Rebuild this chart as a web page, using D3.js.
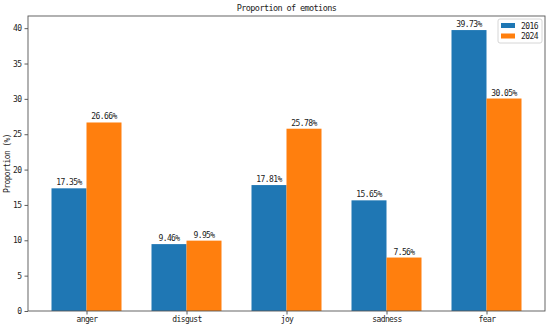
<!DOCTYPE html>
<html>
<head>
<meta charset="utf-8">
<script src="https://cdn.jsdelivr.net/npm/d3@7"></script>
<style>
  body { margin: 0; background: #fff; }
  svg text { font-family: "DejaVu Sans Mono", "Liberation Mono", monospace; fill: #222; }
</style>
</head>
<body>
<div id="chart"></div>
<script>
// chart data
var emotions = ["anger", "disgust", "joy", "sadness", "fear"];
var years = ["2016", "2024"];
var values2016 = [17.35, 9.46, 17.81, 15.65, 39.73];
var values2024 = [26.66, 9.95, 25.78, 7.56, 30.05];
var yTicks = [0, 5, 10, 15, 20, 25, 30, 35, 40];
var colors = ["#1f77b4", "#ff7f0e"];

var W = 550, H = 329;
var plotLeft = 28, plotRight = 545, plotTop = 16, plotBottom = 311;
var barW = 0.35;

var svg = d3.select("#chart").append("svg").attr("width", W).attr("height", H);

var x = d3.scaleLinear().domain([-0.585, 4.585]).range([plotLeft, plotRight]);
var y = d3.scaleLinear().domain([0, 41.72]).range([plotBottom, plotTop]);

var series = [values2016, values2024];

// bars
series.forEach(function(vals, s) {
  var off = s == 0 ? -barW : 0;
  svg.append("g").selectAll("rect").data(vals).enter().append("rect")
    .attr("x", function(d, i) { return x(i + off); })
    .attr("width", x(barW) - x(0))
    .attr("y", function(d) { return y(d); })
    .attr("height", function(d) { return y(0) - y(d); })
    .attr("fill", colors[s]);

  svg.append("g").selectAll("text").data(vals).enter().append("text")
    .attr("x", function(d, i) { return x(i + off + barW / 2); })
    .attr("y", function(d) { return y(d) - 3; })
    .attr("text-anchor", "middle")
    .attr("font-size", 8)
    .attr("letter-spacing", -0.6)
    .text(function(d) { return d.toFixed(2) + "%"; });
});

// axes
var yAxis = d3.axisLeft(y).tickValues(yTicks).tickSize(3.5).tickPadding(3);
var gy = svg.append("g").attr("transform", "translate(" + plotLeft + ",0)").call(yAxis);
var xAxis = d3.axisBottom(x).tickValues(d3.range(emotions.length))
  .tickFormat(function(i) { return emotions[i]; }).tickSize(3.5).tickPadding(2);
var gx = svg.append("g").attr("transform", "translate(0," + plotBottom + ")").call(xAxis);
[gx, gy].forEach(function(g) {
  g.select(".domain").remove();
  g.selectAll("line").attr("stroke", "#333").attr("stroke-width", 0.8);
  g.selectAll("text").attr("font-size", 8).attr("letter-spacing", -0.6)
    .attr("font-family", "DejaVu Sans Mono").attr("fill", "#222");
});

// frame
svg.append("rect").attr("x", plotLeft).attr("y", plotTop)
  .attr("width", plotRight - plotLeft).attr("height", plotBottom - plotTop)
  .attr("fill", "none").attr("stroke", "#555").attr("stroke-width", 0.9);

// title and label
svg.append("text").attr("x", (plotLeft + plotRight) / 2).attr("y", 11)
  .attr("text-anchor", "middle").attr("font-size", 8.5).attr("letter-spacing", -0.6)
  .text("Proportion of emotions");
svg.append("text").attr("transform", "translate(10," + ((plotTop + plotBottom) / 2) + ") rotate(-90)")
  .attr("text-anchor", "middle").attr("font-size", 8).attr("letter-spacing", -0.6)
  .text("Proportion (%)");

// legend
var lg = svg.append("g").attr("transform", "translate(498,19)");
lg.append("rect").attr("width", 44).attr("height", 24).attr("rx", 2)
  .attr("fill", "#fff").attr("fill-opacity", 0.8).attr("stroke", "#ccc").attr("stroke-width", 0.8);
years.forEach(function(yr, i) {
  lg.append("rect").attr("x", 3).attr("y", 4 + i * 10.5).attr("width", 14).attr("height", 5)
    .attr("fill", colors[i]);
  lg.append("text").attr("x", 23).attr("y", 9.5 + i * 10.5).attr("font-size", 8)
    .attr("letter-spacing", -0.6).text(yr);
});
</script>
</body>
</html>
